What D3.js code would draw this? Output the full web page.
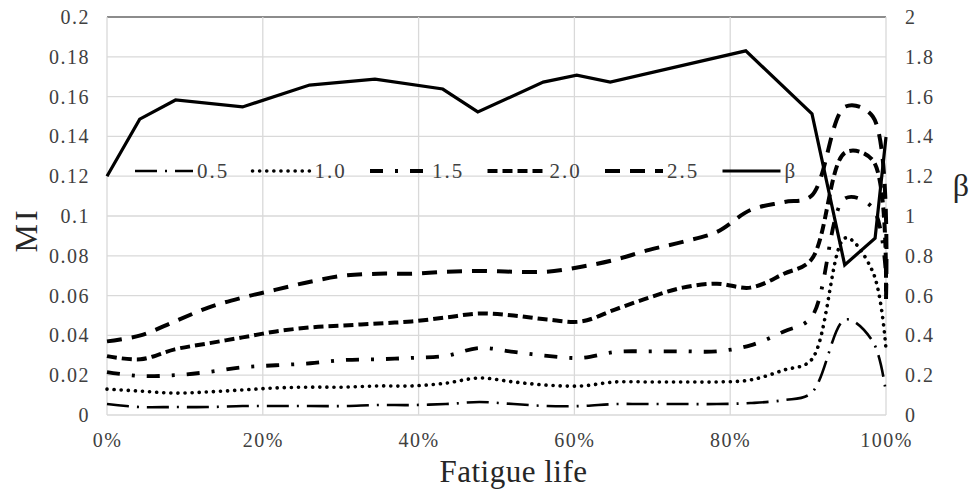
<!DOCTYPE html>
<html>
<head>
<meta charset="utf-8">
<script src="https://cdn.jsdelivr.net/npm/d3@7"></script>
<style>
  body { margin: 0; background: #fff; }
  svg text { font-family: "Liberation Serif", "Times New Roman", Times, "DejaVu Serif", serif !important; }
</style>
</head>
<body>
<div id="chart"></div>
<script>
// fatigue life (%) of the MI samples
let lifeMI = [0, 4.3, 8.7, 13, 17.4, 21.7, 26.1, 30.4, 34.8, 39.1, 43.5, 47.8, 52.2,
              56.5, 60.9, 65.2, 69.6, 73.9, 78.3, 82.6, 86.9, 90.4, 94.8, 98.3, 100];

let mi05 = [0.0055, 0.004, 0.004, 0.004, 0.0045, 0.0045, 0.0045, 0.0045, 0.005, 0.005, 0.0055, 0.0065, 0.0055,
            0.0045, 0.0045, 0.0055, 0.0055, 0.0055, 0.0055, 0.006, 0.0075, 0.011, 0.048, 0.037, 0.011];
let mi10 = [0.013, 0.012, 0.011, 0.0116, 0.0126, 0.0136, 0.014, 0.014, 0.0146, 0.0146, 0.016, 0.0186, 0.0166,
            0.015, 0.0146, 0.0166, 0.0166, 0.0166, 0.0166, 0.0176, 0.0226, 0.0276, 0.089, 0.072, 0.033];
let mi15 = [0.0216, 0.0196, 0.020, 0.0216, 0.024, 0.025, 0.026, 0.0276, 0.028, 0.0287, 0.0297, 0.0337, 0.0317,
            0.0297, 0.0287, 0.0317, 0.032, 0.032, 0.032, 0.035, 0.042, 0.049, 0.109, 0.104, 0.07];
let mi20 = [0.0296, 0.028, 0.033, 0.036, 0.039, 0.042, 0.044, 0.045, 0.046, 0.047, 0.049, 0.051, 0.050,
            0.048, 0.047, 0.053, 0.059, 0.064, 0.066, 0.064, 0.071, 0.078, 0.132, 0.128, 0.062];
let mi25 = [0.037, 0.040, 0.047, 0.054, 0.059, 0.063, 0.067, 0.070, 0.071, 0.071, 0.072, 0.0724, 0.072,
            0.072, 0.0745, 0.078, 0.083, 0.087, 0.092, 0.103, 0.107, 0.110, 0.155, 0.150, 0.058];

// beta (right axis)
let lifeBeta = [0, 4.2, 8.8, 17.4, 26, 34.4, 43.1, 47.6, 56, 60.3, 64.6, 82, 90.5, 94.7, 98.6, 100];
let beta = [1.2, 1.487, 1.583, 1.548, 1.658, 1.688, 1.638, 1.523, 1.673, 1.708, 1.673, 1.83, 1.513, 0.754, 0.889, 1.397];

let seriesNames = ["0.5", "1.0", "1.5", "2.0", "2.5", "β"];

let xTicks = [0, 20, 40, 60, 80, 100];
let yTicksMI = [0, 0.02, 0.04, 0.06, 0.08, 0.1, 0.12, 0.14, 0.16, 0.18, 0.2];
let yTicksBeta = [0, 0.2, 0.4, 0.6, 0.8, 1, 1.2, 1.4, 1.6, 1.8, 2];

let totalW = 971, totalH = 493;
let margin = {top: 17, right: 85, bottom: 78, left: 107};
let width = totalW - margin.left - margin.right;
let height = totalH - margin.top - margin.bottom;

let svg = d3.select("#chart")
    .append("svg")
    .attr("width", totalW)
    .attr("height", totalH);

let g = svg.append("g")
    .attr("transform", "translate(" + margin.left + "," + margin.top + ")");

let x = d3.scaleLinear().domain([0, 100]).range([0, width]);
let y = d3.scaleLinear().domain([0, 0.2]).range([height, 0]);
let yB = d3.scaleLinear().domain([0, 2]).range([height, 0]);

// gridlines
g.selectAll(".hgrid")
    .data(yTicksMI)
    .enter().append("line")
    .attr("x1", 0).attr("x2", width)
    .attr("y1", d => y(d)).attr("y2", d => y(d))
    .attr("stroke", d => d === 0.2 ? "#8c8c8c" : "#d9d9d9")
    .attr("stroke-width", d => d === 0.2 ? 2 : 1.3);

g.selectAll(".vgrid")
    .data(xTicks)
    .enter().append("line")
    .attr("x1", d => x(d)).attr("x2", d => x(d))
    .attr("y1", y(0.2)).attr("y2", y(0))
    .attr("stroke", "#d9d9d9")
    .attr("stroke-width", 1.3);

// axes (labels only, Excel style)
let xAxis = g.append("g")
    .attr("transform", "translate(0," + height + ")")
    .call(d3.axisBottom(x).tickValues(xTicks).tickSize(0).tickPadding(18).tickFormat(d => d + "%"));
let yAxis = g.append("g")
    .call(d3.axisLeft(y).tickValues(yTicksMI).tickSize(0).tickPadding(17).tickFormat(d => d3.format("~g")(d)));
let yAxisR = g.append("g")
    .attr("transform", "translate(" + width + ",0)")
    .call(d3.axisRight(yB).tickValues(yTicksBeta).tickSize(0).tickPadding(19).tickFormat(d => d3.format("~g")(d)));

[xAxis, yAxis, yAxisR].forEach(a => {
    a.attr("font-family", null);
    a.select(".domain").remove();
    a.selectAll("text")
        .style("font-size", "20px")
        .style("letter-spacing", "1.5px")
        .attr("fill", "#404040");
});

// series styles
let styles = [
    {dash: "22,8,2,8", w: 2.6},
    {dash: "0.1,7", w: 3.6, cap: "round"},
    {dash: "13,12,3,12", w: 3.8},
    {dash: "10,5", w: 4},
    {dash: "15,10", w: 4},
    {dash: null, w: 3.2}
];

let miData = [mi05, mi10, mi15, mi20, mi25];

let smooth = d3.line()
    .x(d => x(d[0]))
    .y(d => y(d[1]))
    .curve(d3.curveCatmullRom.alpha(0.5));

miData.forEach((vals, i) => {
    g.append("path")
        .datum(lifeMI.map((l, j) => [l, vals[j]]))
        .attr("d", smooth)
        .attr("fill", "none")
        .attr("stroke", "#000")
        .attr("stroke-width", styles[i].w)
        .attr("stroke-dasharray", styles[i].dash)
        .attr("stroke-linecap", styles[i].cap || "butt");
});

let betaLine = d3.line()
    .x(d => x(d[0]))
    .y(d => yB(d[1]));

g.append("path")
    .datum(lifeBeta.map((l, j) => [l, beta[j]]))
    .attr("d", betaLine)
    .attr("fill", "none")
    .attr("stroke", "#000")
    .attr("stroke-width", styles[5].w)
    .attr("stroke-linejoin", "miter");

// legend
let legend = svg.append("g").attr("transform", "translate(135,171)");
seriesNames.forEach((name, i) => {
    let lg = legend.append("g").attr("transform", "translate(" + (i * 117.5) + ",0)");
    lg.append("line")
        .attr("x1", 0).attr("x2", 58)
        .attr("y1", 0).attr("y2", 0)
        .attr("stroke", "#000")
        .attr("stroke-width", styles[i].w)
        .attr("stroke-dasharray", styles[i].dash)
        .attr("stroke-linecap", styles[i].cap || "butt");
    lg.append("text")
        .attr("x", 62)
        .attr("y", 7)
        .style("font-size", "21px")
        .style("letter-spacing", "2px")
        .attr("fill", "#404040")
        .text(name);
});

// axis titles
svg.append("text")
    .attr("transform", "translate(37,230) rotate(-90)")
    .attr("text-anchor", "middle")
    .style("font-size", "32px")
    .style("letter-spacing", "3px")
    .attr("fill", "#262626")
    .text("MI");

svg.append("text")
    .attr("x", 961)
    .attr("y", 196)
    .attr("text-anchor", "middle")
    .style("font-size", "32px")
    .attr("fill", "#262626")
    .text("β");

svg.append("text")
    .attr("x", margin.left + width / 2 - 57)
    .attr("y", 482)
    .style("font-size", "31px")
    .style("letter-spacing", "0.5px")
    .attr("fill", "#262626")
    .text("Fatigue life");
</script>
</body>
</html>
